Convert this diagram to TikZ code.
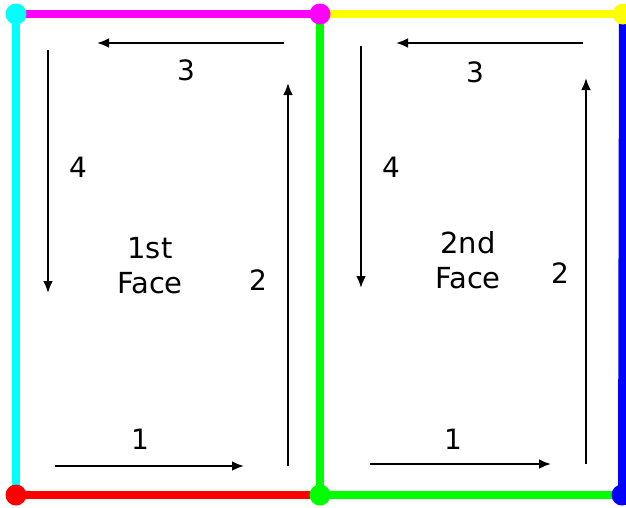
\documentclass[tikz,border=0pt]{standalone}
\usepackage{fontspec}
\setmainfont{DejaVu Sans}
\usetikzlibrary{arrows.meta}
\definecolor{ccyan}{RGB}{0,255,255}
\definecolor{cmag}{RGB}{255,0,255}
\definecolor{cyel}{RGB}{255,255,0}
\definecolor{cred}{RGB}{255,0,0}
\definecolor{cgreen}{RGB}{0,255,0}
\definecolor{cblue}{RGB}{0,0,255}
\tikzset{
  edge/.style={line width=8pt},
  dot/.style={circle,inner sep=0pt,minimum size=21pt},
  flow/.style={line width=2.6pt,-{Latex[length=12pt,width=10pt]}},
  lbl/.style={font=\fontsize{28}{32}\selectfont,inner sep=0pt},
  face/.style={font=\fontsize{29}{35}\selectfont,align=center,inner sep=0pt}
}
\begin{document}
\begin{tikzpicture}[x=1pt,y=-1pt]
\useasboundingbox (0,0) rectangle (626,507);
\coordinate (TL) at (16,14);
\coordinate (TM) at (320,14);
\coordinate (TR) at (623,14);
\coordinate (BL) at (16,495);
\coordinate (BM) at (320,495);
\coordinate (BR) at (622,495);
% edges
\draw[edge,cmag] (TL) -- (TM);
\draw[edge,cyel] (TM) -- (TR);
\draw[edge,ccyan] (TL) -- (BL);
\draw[edge,cred] (BL) -- (BM);
\draw[edge,cgreen] (TM) -- (BM);
\draw[edge,cgreen] (BM) -- (BR);
\draw[edge,cblue] (TR) -- (BR);
% dots
\node[dot,fill=ccyan] (dTL) at (TL) {};
\node[dot,fill=cmag] (dTM) at (TM) {};
\node[dot,fill=cyel] (dTR) at (TR) {};
\node[dot,fill=cred] (dBL) at (BL) {};
\node[dot,fill=cgreen] (dBM) at (BM) {};
\node[dot,fill=cblue] (dBR) at (BR) {};
% first face arrows
\coordinate (a1s) at (55,466); \coordinate (a1e) at (244,466);
\coordinate (a2s) at (288,466); \coordinate (a2e) at (288,83);
\coordinate (a3s) at (284,43); \coordinate (a3e) at (97,43);
\coordinate (a4s) at (48,50); \coordinate (a4e) at (48,293);
\draw[flow] (a1s) -- (a1e);
\draw[flow] (a2s) -- (a2e);
\draw[flow] (a3s) -- (a3e);
\draw[flow] (a4s) -- (a4e);
\node[lbl] (l1a) at (140,439) {1};
\node[lbl] (l2a) at (258,280) {2};
\node[lbl] (l3a) at (186,70) {3};
\node[lbl] (l4a) at (78,167) {4};
\node[face] (f1) at (150,266) {1st\\Face};
% second face arrows
\coordinate (b1s) at (370,464); \coordinate (b1e) at (551,464);
\coordinate (b2s) at (586,464); \coordinate (b2e) at (586,78);
\coordinate (b3s) at (583,43); \coordinate (b3e) at (396,43);
\coordinate (b4s) at (361,46); \coordinate (b4e) at (361,288);
\draw[flow] (b1s) -- (b1e);
\draw[flow] (b2s) -- (b2e);
\draw[flow] (b3s) -- (b3e);
\draw[flow] (b4s) -- (b4e);
\node[lbl] (l1b) at (453,439) {1};
\node[lbl] (l2b) at (560,273) {2};
\node[lbl] (l3b) at (475,72) {3};
\node[lbl] (l4b) at (391,167) {4};
\node[face] (f2) at (468,260) {2nd\\Face};
\end{tikzpicture}
\end{document}
